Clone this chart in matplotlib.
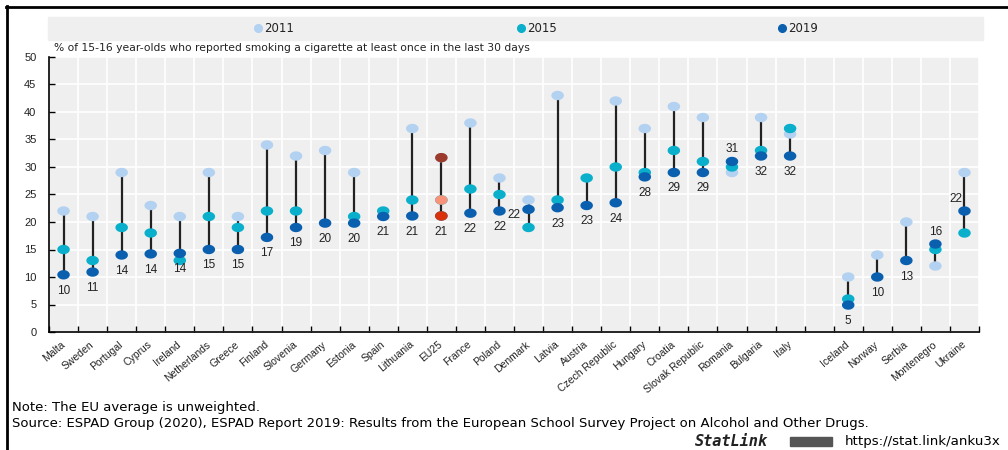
import numpy as np
import matplotlib
matplotlib.use('Agg')
import matplotlib.pyplot as plt
from matplotlib.path import Path
from matplotlib.lines import Line2D
from matplotlib.patches import Rectangle

plt.rcParams['font.family'] = ['Liberation Sans', 'DejaVu Sans']

# data (None = no value)
countries = ['Malta', 'Sweden', 'Portugal', 'Cyprus', 'Ireland', 'Netherlands', 'Greece',
             'Finland', 'Slovenia', 'Germany', 'Estonia', 'Spain', 'Lithuania', 'EU25',
             'France', 'Poland', 'Denmark', 'Latvia', 'Austria', 'Czech Republic', 'Hungary',
             'Croatia', 'Slovak Republic', 'Romania', 'Bulgaria', 'Italy', '',
             'Iceland', 'Norway', 'Serbia', 'Montenegro', 'Ukraine']
y2011 = [22, 21, 29, 23, 21, 29, 21, 34, 32, 33, 29, None, 37, 31.7,
         38, 28, 24, 43, None, 42, 37, 41, 39, 29, 39, 36, None,
         10, 14, 20, 12, 29]
y2015 = [15, 13, 19, 18, 13, 21, 19, 22, 22, None, 21, 22, 24, 24,
         26, 25, 19, 24, 28, 30, 29, 33, 31, 30, 33, 37, None,
         6, None, None, 15, 18]
y2019 = [10.4, 10.9, 14, 14.2, 14.3, 15, 15, 17.2, 19, 19.8, 19.8, 21, 21.1, 21.1,
         21.6, 22, 22.3, 22.6, 23, 23.5, 28.2, 29, 29, 31, 32, 32, None,
         4.9, 10, 13, 16, 22]
labels2019 = ['10', '11', '14', '14', '14', '15', '15', '17', '19', '20', '20', '21', '21', '21',
              '22', '22', '22', '23', '23', '24', '28', '29', '29', '31', '32', '32', '',
              '5', '10', '13', '16', '22']
years = ['2011', '2015', '2019']

c2011, c2015, c2019 = '#b3d1f0', '#0aafcb', '#0a5fae'
eu_cols = ['#9c3b2c', '#f7927b', '#d9310b']
bg = '#efefef'
txt = '#222222'

# wide ellipse marker (picture is stretched horizontally)
t = np.linspace(0, 2 * np.pi, 60)
ellipse = Path(np.column_stack([np.cos(t), 0.75 * np.sin(t)]), closed=True)


def vals(a):
    return np.array([np.nan if v is None else v for v in a], dtype=float)


a11, a15, a19 = vals(y2011), vals(y2015), vals(y2019)
x = np.arange(len(countries))
eu = countries.index('EU25')

fig = plt.figure(figsize=(10.08, 4.5), dpi=100)
ax = fig.add_axes([49 / 1008, 1 - 332 / 450, 930 / 1008, 275 / 450])
ax.set_facecolor(bg)

# connecting lines
stack = np.vstack([a11, a15, a19])
for i in x:
    col = stack[:, i]
    if np.all(np.isnan(col)):
        continue
    ax.plot([i, i], [np.nanmin(col), np.nanmax(col)], color=txt, lw=1.6, zorder=2)

ms = 9
for arr, c, z in [(a11, c2011, 3), (a15, c2015, 4), (a19, c2019, 5)]:
    ax.scatter(x, arr, s=ms ** 2, marker=ellipse, color=c, edgecolors='none', zorder=z)
for k, arr in enumerate([a11, a15, a19]):
    ax.scatter([eu], [arr[eu]], s=ms ** 2, marker=ellipse, color=eu_cols[k],
               edgecolors='none', zorder=6)

# value labels for 2019
for i in x:
    if not labels2019[i]:
        continue
    dx, dy = 0, -16
    if countries[i] in ('Romania', 'Montenegro'):
        dy = 12
    elif countries[i] == 'Denmark':
        dx, dy = -15, -6
    elif countries[i] == 'Ukraine':
        dx, dy = -9, 12
    ax.annotate(labels2019[i], (i, a19[i]), xytext=(dx, dy), textcoords='offset pixels',
                ha='center', va='center', fontsize=8.5, color=txt, zorder=7)

ax.set_xlim(-0.5, len(x) - 0.5)
ax.set_ylim(0, 50)
ax.set_yticks(np.arange(0, 51, 5))
ax.set_xticks(x)
ax.set_xticklabels(countries, rotation=40, ha='right', va='center', rotation_mode='anchor',
                   fontsize=7.5, color=txt)
ax.set_xticks(np.arange(-0.5, len(x), 1), minor=True)
ax.tick_params(axis='x', which='major', length=0, pad=8)
ax.tick_params(axis='x', which='minor', direction='in', length=4, width=1, color='black')
ax.tick_params(axis='y', direction='in', length=4, width=1, labelsize=8, pad=9,
               labelcolor=txt)
ax.grid(True, axis='y', which='major', color='white', lw=1.2, zorder=0)
ax.grid(True, axis='x', which='minor', color='white', lw=1.2, zorder=0)
ax.set_axisbelow(True)
for s in ['top', 'right']:
    ax.spines[s].set_visible(False)
for s in ['left', 'bottom']:
    ax.spines[s].set_color('black')
    ax.spines[s].set_linewidth(1.2)

fig.text(54 / 1008, 1 - 48 / 450, '% of 15-16 year-olds who reported smoking a cigarette at least once in the last 30 days',
         fontsize=7.75, color=txt, va='center', ha='left', family=['DejaVu Sans'])

# legend band
fig.patches.append(Rectangle((48 / 1008, 1 - 40 / 450), 935 / 1008, 23 / 450,
                             transform=fig.transFigure, color=bg, zorder=0))
for xx, yr, c in [(258, years[0], c2011), (521, years[1], c2015), (782, years[2], c2019)]:
    fig.add_artist(Line2D([xx / 1008], [1 - 28 / 450], marker='o', ms=5.5, color=c,
                          transform=fig.transFigure, lw=0))
    fig.text((xx + 6) / 1008, 1 - 28 / 450, yr, fontsize=8.5, va='center', ha='left',
             color=txt, family=['DejaVu Sans'])

# frame lines
fig.add_artist(Line2D([6 / 1008, 1], [1 - 7 / 450, 1 - 7 / 450], color='black', lw=2,
                      transform=fig.transFigure))
fig.add_artist(Line2D([7 / 1008, 7 / 1008], [0, 1 - 6 / 450], color='black', lw=2,
                      transform=fig.transFigure))

# footer
fig.text(12 / 1008, 1 - 407 / 450, 'Note: The EU average is unweighted.', fontsize=9.5,
         va='center', ha='left', family=['DejaVu Sans'])
fig.text(12 / 1008, 1 - 423 / 450,
         'Source: ESPAD Group (2020), ESPAD Report 2019: Results from the European School Survey Project on Alcohol and Other Drugs.',
         fontsize=9.5, va='center', ha='left', family=['DejaVu Sans'])
fig.text(695 / 1008, 1 - 441 / 450, 'StatLink', fontsize=11, style='italic', weight='bold',
         va='center', ha='left', family=['DejaVu Sans Mono'], color=txt)
fig.patches.append(Rectangle((790 / 1008, 1 - 446 / 450), 42 / 1008, 9 / 450,
                             transform=fig.transFigure, color='#555555'))
fig.text(845 / 1008, 1 - 441 / 450, 'https://stat.link/anku3x', fontsize=9.6,
         va='center', ha='left', family=['DejaVu Sans'])

fig.savefig('out.png', dpi=100)
